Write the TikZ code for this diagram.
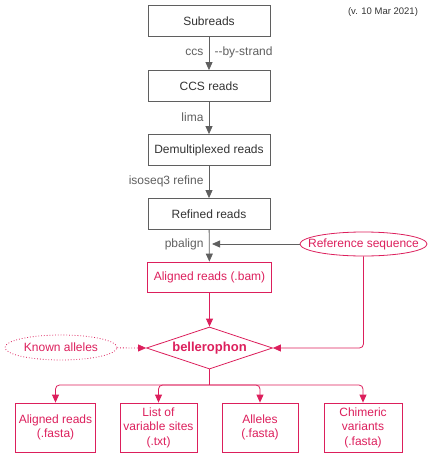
\documentclass[tikz,border=0pt]{standalone}
\usepackage{fontspec}
\setmainfont{Liberation Sans}
\usetikzlibrary{arrows.meta,shapes.geometric}

\definecolor{flowgray}{HTML}{5F5F5F}
\definecolor{flowpink}{HTML}{DC1F5C}

\tikzset{
  graybox/.style={draw=flowgray, thick, minimum width=122pt, minimum height=31pt, text=black!80},
  pinkbox/.style={draw=flowpink, thick, text=flowpink, align=center},
  pinkoval/.style={draw=flowpink, thick, ellipse, text=flowpink, inner xsep=0pt, inner ysep=0pt},
  grayarrow/.style={draw=flowgray, thick, -{Triangle[width=7pt,length=8pt]}},
  pinkarrow/.style={draw=flowpink, thick, -{Triangle[width=7pt,length=8pt]}},
  steplabel/.style={text=flowgray}
}

\begin{document}
\begin{tikzpicture}[x=1pt, y=-1pt, font=\fontsize{12}{14.5}\selectfont]
    \useasboundingbox (0,0) rectangle (432,460);

    % Version
    \node[font=\fontsize{9.5}{11}\selectfont, text=black!80] (version) at (383,12) {(v. 10 Mar 2021)};

    % Gray pipeline
    \node[graybox] (subreads) at (209,21) {Subreads};
    \node[graybox] (ccs) at (209,86) {CCS reads};
    \node[graybox] (demux) at (209,150) {Demultiplexed reads};
    \node[graybox] (refined) at (209,214) {Refined reads};

    \draw[grayarrow] (subreads) -- (ccs);
    \draw[grayarrow] (ccs) -- (demux);
    \draw[grayarrow] (demux) -- (refined);

    \node[steplabel, anchor=east] (ccslabel) at (207,52) {ccs};
    \node[steplabel, anchor=west] (strandlabel) at (211,52) {-{}-by-strand};
    \node[steplabel, anchor=east] (limalabel) at (207,117) {lima};
    \node[steplabel, anchor=east] (isolabel) at (207,181) {isoseq3 refine};
    \node[steplabel, anchor=east] (pbalabel) at (207,244) {pbalign};

    % Alignment
    \node[pinkbox, minimum width=124pt, minimum height=30pt] (bam) at (209.5,277) {Aligned reads (.bam)};
    \draw[grayarrow] (refined) -- (bam);

    \node[pinkoval, inner xsep=-11pt, minimum width=127pt, minimum height=24pt] (refseq) at (363.5,244) {Reference sequence};
    \coordinate (joint) at (209,244);
    \draw[grayarrow] (refseq) -- ([xshift=3pt]joint);

    % bellerophon
    \node[draw=flowpink, thick, diamond, aspect=3, minimum width=126pt, minimum height=42pt, inner sep=0pt, text=flowpink, font=\fontsize{13}{15}\selectfont\bfseries] (bell) at (209.5,348) {bellerophon};
    \draw[pinkarrow] (bam) -- (bell);
    \draw[pinkarrow, rounded corners=4pt] (refseq.south) |- (bell.east);

    \node[pinkoval, dotted, minimum width=112pt, minimum height=25pt] (known) at (61,347.5) {Known alleles};
    \draw[pinkarrow, dotted] (known) -- (bell.west);

    % Outputs
    \node[pinkbox, minimum width=75pt, minimum height=49pt] (outbam) at (55.5,427.5) {Aligned reads\\(.fasta)};
    \node[pinkbox, minimum width=77pt, minimum height=49pt] (outsites) at (158.5,427.5) {List of\\variable sites\\(.txt)};
    \node[pinkbox, minimum width=76pt, minimum height=49pt] (outalleles) at (260,427.5) {Alleles\\(.fasta)};
    \node[pinkbox, minimum width=78pt, minimum height=49pt] (outchim) at (363,427.5) {Chimeric\\variants\\(.fasta)};

    \coordinate (split) at (209.5,385);
    \draw[flowpink, thick] (bell.south) -- (split);
    \foreach \out in {outbam, outsites, outalleles, outchim}
        \draw[pinkarrow, rounded corners=4pt] (split) -| (\out.north);
\end{tikzpicture}
\end{document}
